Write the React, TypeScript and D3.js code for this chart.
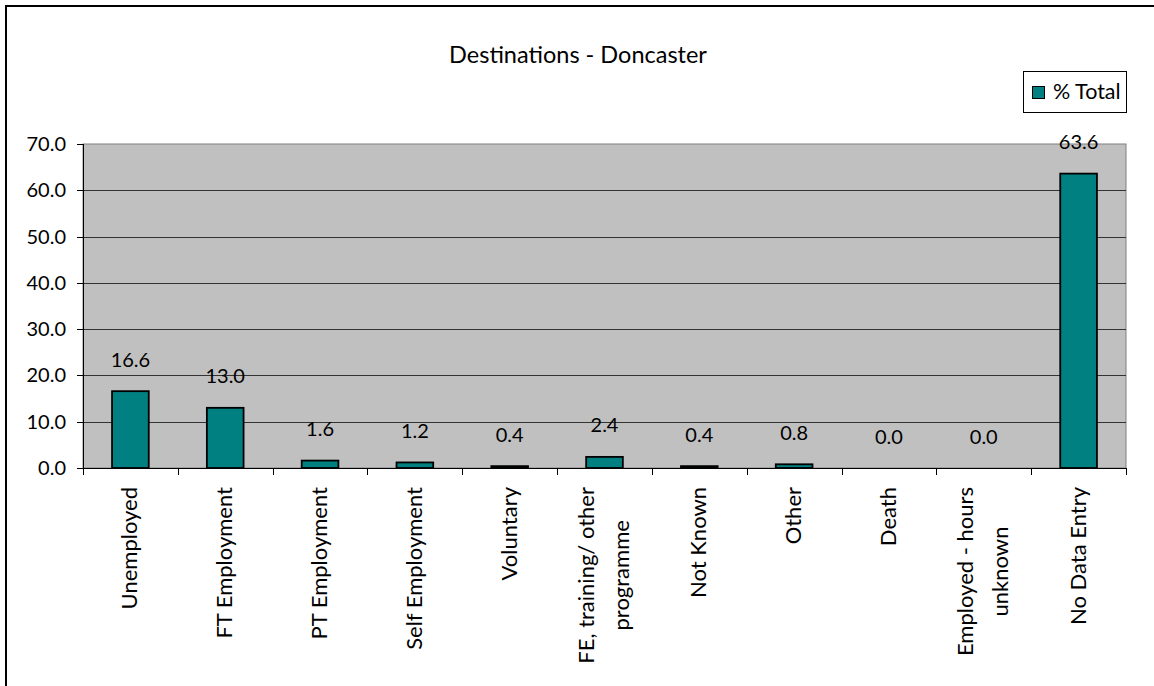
import React, { useEffect, useRef } from "react";
import * as d3 from "d3";

// Destination categories (lines split where the label wraps)
const categories: string[][] = [
  ["Unemployed"],
  ["FT Employment"],
  ["PT Employment"],
  ["Self Employment"],
  ["Voluntary"],
  ["FE, training/ other", "programme"],
  ["Not Known"],
  ["Other"],
  ["Death"],
  ["Employed - hours", "unknown"],
  ["No Data Entry"],
];

// % Total per destination
const totals: number[] = [16.6, 13.0, 1.6, 1.2, 0.4, 2.4, 0.4, 0.8, 0.0, 0.0, 63.6];

const yTicks: number[] = [0, 10, 20, 30, 40, 50, 60, 70];

const title = "Destinations - Doncaster";
const seriesName = "% Total";

const W = 1154;
const H = 686;
const FONT = "Lato, 'DejaVu Sans', sans-serif";
const TEAL = "#008080";

export default function App() {
  const ref = useRef<SVGSVGElement | null>(null);

  useEffect(() => {
    const svg = d3.select(ref.current);
    svg.selectAll("*").remove();

    const left = 83, right = 1126, top = 144, bottom = 468;
    const keys = categories.map((c) => c.join(" "));

    const x = d3.scaleBand<string>().domain(keys).range([left, right]).paddingInner(0.613).paddingOuter(0.3065);
    const y = d3.scaleLinear().domain([0, 70]).range([bottom, top]);
    const step = x.step();

    // Outer chart frame
    svg.append("rect").attr("x", 6).attr("y", 6).attr("width", W + 20).attr("height", H + 20)
      .attr("fill", "white").attr("stroke", "black").attr("stroke-width", 2);

    // Title
    svg.append("text").attr("x", 578).attr("y", 63).attr("text-anchor", "middle")
      .attr("font-family", FONT).attr("font-size", 23.5).attr("fill", "black").text(title);

    // Plot area
    svg.append("rect").attr("x", left).attr("y", top).attr("width", right - left).attr("height", bottom - top)
      .attr("fill", "#C0C0C0").attr("stroke", "#808080").attr("stroke-width", 1);

    // Gridlines
    svg.append("g").selectAll("line").data(yTicks.filter((t) => t > 0 && t < 70)).join("line")
      .attr("x1", left).attr("x2", right)
      .attr("y1", (d) => Math.round(y(d)) + 0.5).attr("y2", (d) => Math.round(y(d)) + 0.5)
      .attr("stroke", "#333").attr("stroke-width", 1);

    // Y axis
    svg.append("line").attr("x1", left + 0.5).attr("x2", left + 0.5).attr("y1", top).attr("y2", bottom)
      .attr("stroke", "black");
    const yg = svg.append("g");
    yg.selectAll("line").data(yTicks).join("line")
      .attr("x1", left - 6).attr("x2", left)
      .attr("y1", (d) => Math.round(y(d)) + 0.5).attr("y2", (d) => Math.round(y(d)) + 0.5)
      .attr("stroke", "black");
    yg.selectAll("text").data(yTicks).join("text")
      .attr("x", 66).attr("y", (d) => y(d) + 7).attr("text-anchor", "end")
      .attr("font-family", FONT).attr("font-size", 20).attr("fill", "black")
      .text((d) => d3.format(".1f")(d));

    // Bars
    svg.append("g").selectAll("rect").data(totals).join("rect")
      .attr("x", (_, i) => x(keys[i])!).attr("width", x.bandwidth())
      .attr("y", (d) => y(d)).attr("height", (d) => y(0) - y(d))
      .attr("fill", TEAL).attr("stroke", "black").attr("stroke-width", 1.8);

    // X axis
    svg.append("line").attr("x1", left).attr("x2", right).attr("y1", bottom + 0.5).attr("y2", bottom + 0.5)
      .attr("stroke", "black");
    svg.append("g").selectAll("line").data(d3.range(keys.length + 1)).join("line")
      .attr("x1", (i) => Math.round(left + i * step) + 0.5).attr("x2", (i) => Math.round(left + i * step) + 0.5)
      .attr("y1", bottom).attr("y2", bottom + 7).attr("stroke", "black");

    // Value labels
    svg.append("g").selectAll("text").data(totals).join("text")
      .attr("x", (_, i) => x(keys[i])! + x.bandwidth() / 2)
      .attr("y", (d) => y(d) - 24.5).attr("text-anchor", "middle")
      .attr("font-family", FONT).attr("font-size", 20).attr("fill", "black")
      .text((d) => d3.format(".1f")(d));

    // Category labels, rotated, wrapped lines centred on each other
    const catG = svg.append("g");
    categories.forEach((lines, i) => {
      const cx = x(keys[i])! + x.bandwidth() / 2;
      const g = catG.append("g");
      const texts = lines.map((ln) =>
        g.append("text").attr("font-family", FONT).attr("font-size", 22).attr("fill", "black").text(ln)
      );
      const lens = texts.map((t) => (t.node() as SVGTextElement).getComputedTextLength());
      const maxLen = d3.max(lens) ?? 0;
      const midY = 487 + maxLen / 2;
      texts.forEach((t, j) => {
        const bx = cx + 7 + (j - (lines.length - 1) / 2) * 35;
        t.attr("text-anchor", "middle").attr("transform", `translate(${bx},${midY}) rotate(-90)`);
      });
    });

    // Legend
    const lg = svg.append("g");
    lg.append("rect").attr("x", 1023.5).attr("y", 71.5).attr("width", 103).attr("height", 41)
      .attr("fill", "white").attr("stroke", "black");
    lg.append("rect").attr("x", 1032.5).attr("y", 86.5).attr("width", 12).attr("height", 12)
      .attr("fill", TEAL).attr("stroke", "black");
    lg.append("text").attr("x", 1053).attr("y", 99).attr("font-family", FONT).attr("font-size", 21.5)
      .attr("fill", "black").text(seriesName);
  }, []);

  return (
    <svg
      ref={ref}
      width={W}
      height={H}
      style={{ position: "absolute", left: 0, top: 0, display: "block", background: "white" }}
    />
  );
}
